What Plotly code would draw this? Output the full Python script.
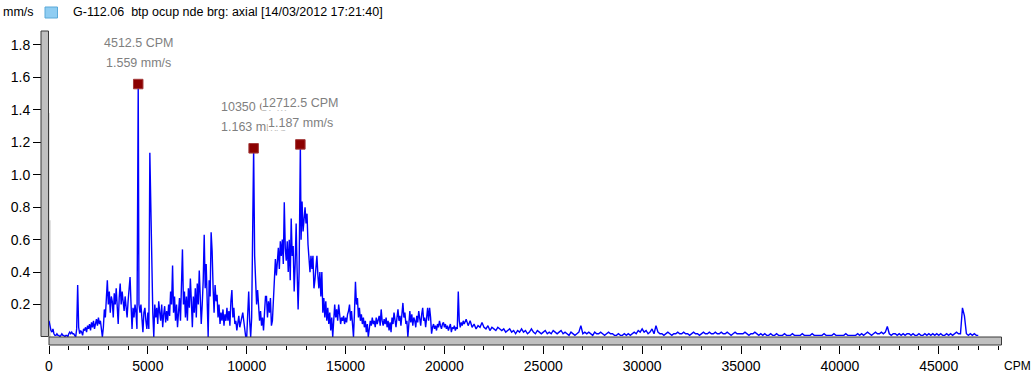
import numpy as np
import pandas as pd
import plotly.graph_objects as go

# ---------------- data ----------------
unit = "mm/s"
title_text = "G-112.06  btp ocup nde brg: axial [14/03/2012 17:21:40]"

fine_start, fine_step = 0, 50        # CPM grid of the fine part
amp_fine = [
    # 0 - 950
    0.10, 0.06, 0.04, 0.03, 0.05, 0.02, 0.01, 0.01, 0.02, 0.01, 0.01, 0.00, 0.01, 0.02, 0.01, 0.01, 0.00, 0.01, 0.01, 0.00,
    # 1000 - 1950
    0.02, 0.03, 0.02, 0.03, 0.02, 0.02, 0.01, 0.00, 0.05, 0.32, 0.06, 0.02, 0.04, 0.03, 0.01, 0.05, 0.04, 0.06, 0.03, 0.07,
    # 2000 - 2950
    0.05, 0.08, 0.04, 0.09, 0.06, 0.10, 0.05, 0.08, 0.11, 0.07, 0.12, 0.08, 0.10, 0.05, 0.00, 0.06, 0.17, 0.12, 0.22, 0.35,
    # 3000 - 3950
    0.20, 0.28, 0.15, 0.25, 0.22, 0.12, 0.27, 0.20, 0.30, 0.18, 0.08, 0.24, 0.33, 0.20, 0.28, 0.22, 0.16, 0.25, 0.19, 0.12,
    # 4000 - 4950
    0.22, 0.30, 0.37, 0.20, 0.05, 0.18, 0.12, 0.20, 0.15, 0.05, 1.00, 0.20, 0.15, 0.20, 0.12, 0.03, 0.15, 0.18, 0.10, 0.05,
    # 5000 - 5950
    0.15, 0.05, 1.135, 0.80, 0.30, 0.15, 0.00, 0.20, 0.12, 0.18, 0.08, 0.22, 0.15, 0.10, 0.20, 0.06, 0.14, 0.19, 0.09, 0.16,
    # 6000 - 6950
    0.10, 0.20, 0.13, 0.28, 0.20, 0.44, 0.15, 0.25, 0.10, 0.20, 0.06, 0.14, 0.24, 0.10, 0.30, 0.54, 0.20, 0.28, 0.12, 0.25,
    # 7000 - 7950
    0.10, 0.30, 0.18, 0.36, 0.22, 0.06, 0.25, 0.15, 0.30, 0.12, 0.33, 0.20, 0.41, 0.15, 0.08, 0.20, 0.35, 0.63, 0.30, 0.45,
    # 8000 - 8950
    0.20, 0.00, 0.35, 0.25, 0.645, 0.53, 0.30, 0.15, 0.32, 0.22, 0.26, 0.12, 0.20, 0.08, 0.15, 0.10, 0.17, 0.07, 0.14, 0.10,
    # 9000 - 9950
    0.18, 0.10, 0.16, 0.07, 0.22, 0.29, 0.12, 0.18, 0.08, 0.10, 0.04, 0.10, 0.13, 0.06, 0.10, 0.12, 0.15, 0.10, 0.05, 0.00,
    # 10000 - 10950
    0.00, 0.20, 0.28, 0.10, 0.00, 0.12, 0.75, 1.163, 0.50, 0.32, 0.20, 0.29, 0.22, 0.10, 0.16, 0.07, 0.12, 0.04, 0.15, 0.25,
    # 11000 - 11950
    0.25, 0.12, 0.22, 0.15, 0.24, 0.07, 0.10, 0.25, 0.30, 0.48, 0.38, 0.45, 0.55, 0.42, 0.59, 0.50, 0.60, 0.45, 0.83, 0.55,
    # 12000 - 12950
    0.47, 0.59, 0.40, 0.60, 0.35, 0.73, 0.50, 0.56, 0.28, 0.45, 0.70, 0.40, 0.17, 0.40, 1.02, 0.60, 0.835, 0.65, 0.75, 0.80,
    # 13000 - 13950
    0.70, 0.76, 0.57, 0.45, 0.40, 0.50, 0.42, 0.50, 0.30, 0.35, 0.45, 0.50, 0.38, 0.30, 0.40, 0.25, 0.40, 0.15, 0.24, 0.12,
    # 14000 - 14950
    0.22, 0.10, 0.18, 0.08, 0.15, 0.04, 0.12, 0.00, 0.10, 0.20, 0.12, 0.17, 0.10, 0.20, 0.14, 0.08, 0.12, 0.10, 0.13, 0.08,
    # 15000 - 15950
    0.12, 0.09, 0.14, 0.16, 0.20, 0.10, 0.16, 0.05, 0.00, 0.15, 0.34, 0.20, 0.24, 0.12, 0.18, 0.10, 0.14, 0.08, 0.12, 0.06,
    # 16000 - 16950
    0.10, 0.03, 0.08, 0.00, 0.06, 0.10, 0.07, 0.12, 0.08, 0.10, 0.06, 0.12, 0.08, 0.10, 0.13, 0.07, 0.17, 0.10, 0.07, 0.11,
    # 17000 - 17950
    0.08, 0.12, 0.06, 0.10, 0.04, 0.09, 0.03, 0.12, 0.08, 0.15, 0.10, 0.06, 0.12, 0.17, 0.10, 0.13, 0.07, 0.15, 0.21, 0.12,
    # 18000 - 18950
    0.15, 0.08, 0.10, 0.00, 0.12, 0.16, 0.09, 0.14, 0.07, 0.12, 0.10, 0.06, 0.13, 0.09, 0.16, 0.11, 0.07, 0.14, 0.18, 0.10,
    # 19000 - 19950
    0.12, 0.06, 0.14, 0.18, 0.10, 0.18, 0.12, 0.02, 0.06, 0.08, 0.05, 0.07, 0.04, 0.08, 0.06, 0.10, 0.07, 0.05, 0.08, 0.09,
    # 20000 - 20950
    0.06, 0.08, 0.05, 0.07, 0.04, 0.06, 0.08, 0.03, 0.06, 0.05, 0.07, 0.04, 0.06, 0.05, 0.28, 0.10, 0.06, 0.09, 0.07, 0.10,
]

coarse_start, coarse_step = 21000, 100   # CPM grid of the coarse part
amp_coarse = [
    # 21000 - 21900
    0.08, 0.11, 0.07, 0.10, 0.06, 0.08, 0.05, 0.07, 0.06, 0.09,
    # 22000 - 22900
    0.06, 0.05, 0.07, 0.04, 0.06, 0.05, 0.04, 0.06, 0.05, 0.04,
    # 23000 - 23900
    0.05, 0.03, 0.04, 0.05, 0.03, 0.04, 0.02, 0.04, 0.03, 0.05,
    # 24000 - 24900
    0.03, 0.04, 0.02, 0.03, 0.05, 0.03, 0.02, 0.04, 0.03, 0.02,
    # 25000 - 25900
    0.03, 0.04, 0.02, 0.03, 0.02, 0.04, 0.03, 0.02, 0.03, 0.04,
    # 26000 - 26900
    0.02, 0.03, 0.02, 0.01, 0.03, 0.02, 0.01, 0.02, 0.03, 0.07,
    # 27000 - 27900
    0.02, 0.03, 0.02, 0.03, 0.02, 0.01, 0.03, 0.02, 0.02, 0.03,
    # 28000 - 28900
    0.02, 0.01, 0.02, 0.03, 0.02, 0.02, 0.01, 0.01, 0.02, 0.01,
    # 29000 - 29900
    0.01, 0.02, 0.01, 0.02, 0.01, 0.02, 0.03, 0.02, 0.04, 0.03,
    # 30000 - 30900
    0.05, 0.03, 0.04, 0.02, 0.03, 0.05, 0.02, 0.07, 0.03, 0.02,
    # 31000 - 31900
    0.02, 0.01, 0.02, 0.03, 0.02, 0.01, 0.02, 0.02, 0.03, 0.02,
    # 32000 - 32900
    0.02, 0.03, 0.02, 0.02, 0.01, 0.02, 0.03, 0.02, 0.02, 0.01,
    # 33000 - 33900
    0.02, 0.03, 0.02, 0.02, 0.03, 0.02, 0.02, 0.03, 0.02, 0.02,
    # 34000 - 34900
    0.03, 0.02, 0.02, 0.03, 0.02, 0.01, 0.02, 0.03, 0.02, 0.02,
    # 35000 - 35900
    0.02, 0.02, 0.03, 0.02, 0.01, 0.02, 0.02, 0.03, 0.02, 0.01,
    # 36000 - 36900
    0.02, 0.01, 0.02, 0.01, 0.01, 0.02, 0.01, 0.01, 0.02, 0.01,
    # 37000 - 37900
    0.01, 0.01, 0.02, 0.01, 0.01, 0.01, 0.02, 0.01, 0.01, 0.01,
    # 38000 - 38900
    0.01, 0.02, 0.01, 0.01, 0.01, 0.01, 0.02, 0.01, 0.01, 0.01,
    # 39000 - 39900
    0.01, 0.01, 0.02, 0.01, 0.01, 0.01, 0.01, 0.02, 0.01, 0.01,
    # 40000 - 40900
    0.01, 0.01, 0.01, 0.02, 0.01, 0.01, 0.01, 0.01, 0.01, 0.02,
    # 41000 - 41900
    0.01, 0.02, 0.01, 0.02, 0.03, 0.02, 0.01, 0.02, 0.03, 0.02,
    # 42000 - 42900
    0.02, 0.03, 0.02, 0.03, 0.065, 0.02, 0.01, 0.02, 0.02, 0.01,
    # 43000 - 43900
    0.02, 0.01, 0.02, 0.01, 0.02, 0.02, 0.01, 0.02, 0.01, 0.01,
    # 44000 - 44900
    0.02, 0.01, 0.01, 0.02, 0.01, 0.02, 0.01, 0.02, 0.01, 0.02,
    # 45000 - 45900
    0.01, 0.02, 0.01, 0.01, 0.02, 0.01, 0.02, 0.01, 0.02, 0.03,
    # 46000 - 46900
    0.02, 0.02, 0.18, 0.13, 0.02, 0.01, 0.02, 0.01, 0.02, 0.01,
    # 47000
    0.01,
]

# DC bin (drawn grey by the analyser)
dc_cpm = [0, 0]
dc_amp = [0.72, 1.38]

# labelled peaks
peak_cpm = [4512.5, 10350, 12712.5]
peak_amp = [1.559, 1.163, 1.187]

y_ticks = [0.2, 0.4, 0.6, 0.8, 1.0, 1.2, 1.4, 1.6, 1.8]
y_tick_text = ["0.2", "0.4", "0.6", "0.8", "1.0", "1.2", "1.4", "1.6", "1.8"]
x_ticks = [0, 5000, 10000, 15000, 20000, 25000, 30000, 35000, 40000, 45000]
x_range = [0, 48200]
y_range = [0, 1.886]

# ---------------- assemble series ----------------
cpm_fine = fine_start + fine_step * np.arange(len(amp_fine))
cpm_coarse = coarse_start + coarse_step * np.arange(len(amp_coarse))
spec = pd.DataFrame({
    "cpm": np.concatenate([cpm_fine, cpm_coarse]).astype(float),
    "amp": np.array(amp_fine + amp_coarse, dtype=float),
})
peaks = pd.DataFrame({"cpm": peak_cpm, "amp": peak_amp})
spec = (pd.concat([spec, peaks]).drop_duplicates("cpm", keep="last")
        .sort_values("cpm").reset_index(drop=True))

# ---------------- layout geometry (pixels) ----------------
W, H = 1033, 378
PL, PR, PT, PB = 49, 1002, 31, 337   # plot area edges
REG_W = PR               # margin l = 0
REG_H = H - PT           # margin b = 0


def px(xp):
    return xp / REG_W


def py(yp):
    return (H - yp) / REG_H


fig = go.Figure()

fig.add_trace(go.Scatter(x=[dc_cpm[0], dc_cpm[1]], y=[0, dc_amp[1]], mode="lines",
                         line=dict(color="#e2e2e2", width=2), hoverinfo="skip",
                         showlegend=False))
fig.add_trace(go.Scatter(x=[dc_cpm[0], dc_cpm[1]], y=[0, dc_amp[0]], mode="lines",
                         line=dict(color="#c4c4c4", width=3), hoverinfo="skip",
                         showlegend=False))

fig.add_trace(go.Scatter(x=spec["cpm"], y=spec["amp"], mode="lines",
                         line=dict(color="#0000ff", width=1.4),
                         showlegend=False))

fig.add_trace(go.Scatter(x=peak_cpm, y=peak_amp, mode="markers",
                         marker=dict(symbol="square", size=9.5, color="#8b0000",
                                     line=dict(color="#a33a3a", width=1)),
                         showlegend=False))

ann_font = dict(family="Liberation Sans, Arial, sans-serif", size=12.5, color="#7f7f7f")
annotations = []
for i, (c, a) in enumerate(zip(peak_cpm, peak_amp)):
    cpm_txt = f"{c:g} CPM"
    amp_txt = f"{a:.3f} {unit}"
    bg = "white" if i == 2 else "rgba(0,0,0,0)"
    annotations.append(dict(x=c, y=a, xref="x", yref="y", text=cpm_txt, showarrow=False,
                            yshift=41, font=ann_font, bgcolor=bg, borderpad=0))
    annotations.append(dict(x=c, y=a, xref="x", yref="y", text=amp_txt, showarrow=False,
                            yshift=21, font=ann_font, bgcolor=bg, borderpad=0))

head_font = dict(family="Liberation Sans, Arial, sans-serif", size=12.5, color="#000000")
annotations.append(dict(x=px(1), y=py(12), xref="paper", yref="paper", text=unit,
                        showarrow=False, xanchor="left", yanchor="middle", font=head_font))
annotations.append(dict(x=px(71), y=py(12), xref="paper", yref="paper", text=title_text,
                        showarrow=False, xanchor="left", yanchor="middle", font=head_font))
annotations.append(dict(x=px(1002), y=py(366), xref="paper", yref="paper", text="CPM",
                        showarrow=False, xanchor="left", yanchor="middle",
                        font=dict(family="Liberation Sans, Arial, sans-serif", size=12,
                                  color="#000000")))

shapes = [
    # left 3D axis bar
    dict(type="rect", xref="paper", yref="paper", x0=px(41), x1=px(48.5),
         y0=py(336.5), y1=py(31), fillcolor="#c0c0c0", line=dict(color="#3a3a3a", width=1),
         layer="above"),
    # bottom 3D axis bar
    dict(type="rect", xref="paper", yref="paper", x0=px(49), x1=px(1001.5),
         y0=py(345), y1=py(337), fillcolor="#c0c0c0", line=dict(color="#3a3a3a", width=1),
         layer="above"),
    # legend icon in header
    dict(type="rect", xref="paper", yref="paper", x0=px(45), x1=px(57.5),
         y0=py(18), y1=py(7), fillcolor="#8fcdf2", line=dict(color="#5aa9d8", width=1)),
]

tick_font = dict(family="Liberation Sans, Arial, sans-serif", size=14, color="#000000")

fig.update_layout(
    width=W, height=H,
    margin=dict(l=0, r=W - PR, t=PT, b=0, pad=0),
    paper_bgcolor="white", plot_bgcolor="white",
    showlegend=False,
    annotations=annotations,
    shapes=shapes,
    xaxis=dict(
        domain=[px(PL), 1], range=x_range, anchor="free", position=py(345),
        showgrid=False, zeroline=False, showline=False,
        tickmode="array", tickvals=x_ticks, ticktext=[str(t) for t in x_ticks],
        ticks="outside", ticklen=8, tickwidth=1, tickcolor="#000000",
        minor=dict(dtick=1000, tick0=0, ticks="outside", ticklen=4, tickcolor="#000000",
                   showgrid=False),
        tickfont=tick_font, automargin=False, fixedrange=True,
    ),
    yaxis=dict(
        domain=[py(PB), 1], range=y_range, anchor="free", position=px(41),
        showgrid=False, zeroline=False, showline=False,
        tickmode="array", tickvals=y_ticks, ticktext=y_tick_text,
        ticks="outside", ticklen=8, tickwidth=1, tickcolor="#000000",
        tickfont=tick_font, automargin=False, fixedrange=True,
    ),
)

fig.write_html(
    "out.html",
    config={"displayModeBar": False},
    post_script="document.body.style.margin='0';document.body.style.overflow='hidden';",
)
